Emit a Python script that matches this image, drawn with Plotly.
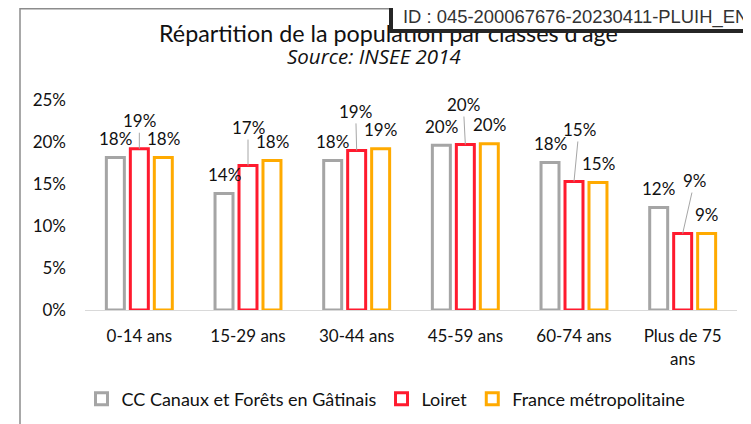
import plotly.graph_objects as go

categories = ["0-14 ans", "15-29 ans", "30-44 ans", "45-59 ans", "60-74 ans", "Plus de 75<br>ans"]
series_names = ["CC Canaux et Forêts en Gâtinais", "Loiret", "France métropolitaine"]
cc_values = [0.1815, 0.1387, 0.178, 0.196, 0.1756, 0.122]
loiret_values = [0.192, 0.172, 0.190, 0.197, 0.153, 0.091]
france_values = [0.1815, 0.178, 0.192, 0.198, 0.1518, 0.091]
tick_values = [0, 0.05, 0.10, 0.15, 0.20, 0.25]
tick_labels = ["0%", "5%", "10%", "15%", "20%", "25%"]

colors = ["#A5A5A5", "#FF1A2E", "#FFAA00"]
FONT = "Lato"
TXT = "#111111"

# page body has an 8px margin: figure drawn at (8, 8) in the window
OFF = 8
W, H = 751 - OFF, 424 - OFF
ML, MR, MT, MB = 85 - OFF, 751 - 737, 100 - OFF, 424 - 310
PW, PH = W - ML - MR, H - MT - MB


def px_x(x):
    return (x - OFF - ML) / PW


def px_y(y):
    return (H - MB - (y - OFF)) / PH


fig = go.Figure()
all_values = [cc_values, loiret_values, france_values]
for name, vals, col in zip(series_names, all_values, colors):
    fig.add_trace(go.Bar(
        x=categories, y=vals, name=name,
        marker=dict(color="white", line=dict(color=col, width=3)),
        hoverinfo="skip",
    ))

annotations = []
slot_shift = [-24, 0, 24]
# red label leader offsets (ax, ay in px)
red_offsets = [(0, -28), (0, -38), (-1, -39), (-2, -40), (5, -52), (12, -53)]

for si, vals in enumerate(all_values):
    for ci, (cat, v) in enumerate(zip(categories, vals)):
        txt = f"{round(v * 100)}%"
        if si == 1:
            ax, ay = red_offsets[ci]
            annotations.append(dict(
                x=cat, y=v, xref="x", yref="y", text=txt,
                showarrow=True, arrowhead=0, arrowwidth=1, arrowcolor="#A6A6A6",
                ax=ax, ay=ay, standoff=0, xshift=slot_shift[si],
                font=dict(family=FONT, size=17, color=TXT),
            ))
        else:
            annotations.append(dict(
                x=cat, y=v, xref="x", yref="y", text=txt, showarrow=False,
                xshift=slot_shift[si], yshift=19,
                font=dict(family=FONT, size=17, color=TXT),
            ))

# Title and subtitle
annotations.append(dict(
    x=px_x(388), y=px_y(33), xref="paper", yref="paper", showarrow=False,
    text="Répartition de la population par classes d'âge",
    font=dict(family=FONT, size=23.3, color=TXT), xanchor="center", yanchor="middle",
))
annotations.append(dict(
    x=px_x(374), y=px_y(56), xref="paper", yref="paper", showarrow=False,
    text="<i>Source: INSEE 2014</i>",
    font=dict(family="Open Sans", size=20.5, color=TXT), xanchor="center", yanchor="middle",
))
# ID stamp box (covers top of title)
annotations.append(dict(
    x=px_x(389), y=px_y(33), xref="paper", yref="paper", showarrow=False,
    text="&nbsp;<br>&nbsp;<br>&nbsp;", width=420, height=60, bgcolor="white",
    bordercolor="#262626", borderwidth=4, borderpad=0,
    xanchor="left", yanchor="bottom", font=dict(size=16),
))
annotations.append(dict(
    x=px_x(401), y=px_y(16.5), xref="paper", yref="paper", showarrow=False,
    text="ID : 045-200067676-20230411-PLUIH_EN",
    font=dict(family="Liberation Sans, Arial", size=18.4, color="#333333"),
    xanchor="left", yanchor="middle",
))

shapes = [dict(
    type="rect", xref="paper", yref="paper",
    x0=px_x(20), x1=px_x(800), y0=px_y(440), y1=px_y(OFF + 0.8),
    line=dict(color="#8C8C8C", width=1.5), fillcolor="rgba(0,0,0,0)", layer="below",
)]

fig.update_layout(
    width=W, height=H,
    margin=dict(l=ML, r=MR, t=MT, b=MB, autoexpand=False),
    paper_bgcolor="white", plot_bgcolor="white",
    barmode="group", bargap=0.338, bargroupgap=0.25,
    font=dict(family=FONT, size=17, color=TXT),
    showlegend=True,
    legend=dict(
        orientation="h", x=px_x(386), xanchor="center", y=px_y(399), yanchor="middle",
        font=dict(family=FONT, size=18, color=TXT), itemwidth=30,
        bgcolor="rgba(0,0,0,0)",
    ),
    annotations=annotations,
    shapes=shapes,
)
fig.update_xaxes(
    type="category", showline=True, linecolor="#D9D9D9", linewidth=1,
    showgrid=False, ticks="", layer="below traces",
    tickfont=dict(family=FONT, size=17, color=TXT), ticklabelstandoff=11,
)
fig.update_yaxes(
    range=[0, 0.25], tickvals=tick_values, ticktext=tick_labels,
    showgrid=False, zeroline=False, showline=False, ticks="",
    tickfont=dict(family=FONT, size=17, color=TXT), ticklabelstandoff=18,
)

fig.write_html("out.html")
